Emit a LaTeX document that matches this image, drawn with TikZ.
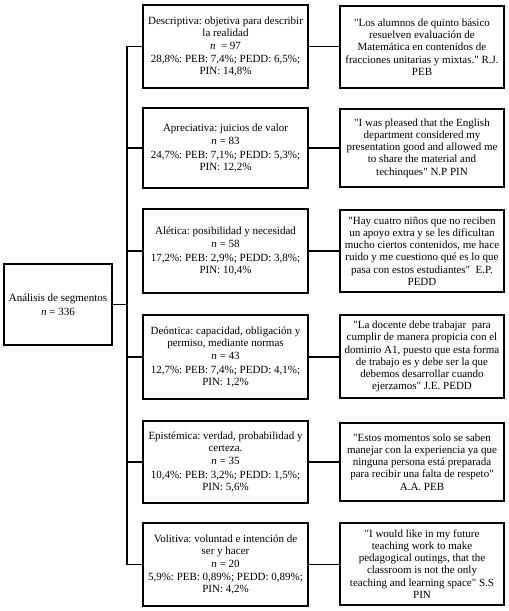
\documentclass[tikz,border=0pt]{standalone}
\usepackage{fontspec}
\setmainfont{Liberation Serif}[Ligatures=TeXOff]
\begin{document}
\begin{tikzpicture}[x=1pt,y=-1pt,
  box/.style={draw,line width=1.9pt,inner sep=0pt,align=center,
    font=\fontsize{11}{12.2}\selectfont\frenchspacing},
  mid/.style={box,minimum width=165pt},
  quo/.style={box,minimum width=164pt},
  conn/.style={line width=1.9pt}]
\useasboundingbox (0,0) rectangle (509,611);
\node[box,minimum width=108pt,minimum height=81pt] (a) at (58,304.5)
  {Análisis de segmentos\\[2pt] \textit{n} = 336};
\node[mid,minimum height=83pt] (m1) at (225.5,46.5)
  {Descriptiva: objetiva para describir\\ la realidad\\[1pt] \textit{n}\ \ = 97\\[1pt] 28,8\%: PEB: 7,4\%; PEDD: 6,5\%;\\ PIN: 14,8\%};
\node[mid,minimum height=80pt] (m2) at (225.5,148)
  {Apreciativa: juicios de valor\\[1pt] \textit{n} = 83\\[1pt] 24,7\%: PEB: 7,1\%; PEDD: 5,3\%;\\ PIN: 12,2\%};
\node[mid,minimum height=84pt] (m3) at (225.5,251)
  {Alética: posibilidad y necesidad\\[1pt] \textit{n} = 58\\[1pt] 17,2\%: PEB: 2,9\%; PEDD: 3,8\%;\\ PIN: 10,4\%};
\node[mid,minimum height=84pt] (m4) at (225.5,357)
  {Deóntica: capacidad, obligación y\\ permiso, mediante normas\\[1pt] \textit{n} = 43\\[1pt] 12,7\%: PEB: 7,4\%; PEDD: 4,1\%;\\ PIN: 1,2\%};
\node[mid,minimum height=82pt] (m5) at (225.5,462)
  {Epistémica: verdad, probabilidad y\\ certeza.\\[1pt] \textit{n} = 35\\[1pt] 10,4\%: PEB: 3,2\%; PEDD: 1,5\%;\\ PIN: 5,6\%};
\node[mid,minimum height=83pt] (m6) at (225.5,564.5)
  {Volitiva: voluntad e intención de\\ ser y hacer\\[1pt] \textit{n} = 20\\[1pt] 5,9\%: PEB: 0,89\%; PEDD: 0,89\%;\\ PIN: 4,2\%};
\node[quo,minimum height=82pt] (r1) at (422,47)
  {"Los alumnos de quinto básico\\ resuelven evaluación de\\ Matemática en contenidos de\\ fracciones unitarias y mixtas." R.J.\\ PEB};
\node[quo,minimum height=78pt] (r2) at (422,148)
  {"I was pleased that the English\\ department considered my\\ presentation good and allowed me\\ to share the material and\\ techinques" N.P PIN};
\node[quo,minimum height=82pt] (r3) at (422,251)
  {"Hay cuatro niños que no reciben\\ un apoyo extra y se les dificultan\\ mucho ciertos contenidos, me hace\\ ruido y me cuestiono qué es lo que\\ pasa con estos estudiantes"\ \ E.P.\\ PEDD};
\node[quo,minimum height=83pt] (r4) at (422,356.5)
  {"La docente debe trabajar\ \ para\\ cumplir de manera propicia con el\\ dominio A1, puesto que esta forma\\ de trabajo es y debe ser la que\\ debemos desarrollar cuando\\ ejerzamos" J.E. PEDD};
\node[quo,minimum height=78pt] (r5) at (422,462)
  {"Estos momentos solo se saben\\ manejar con la experiencia ya que\\ ninguna persona está preparada\\ para recibir una falta de respeto"\\ A.A. PEB};
\node[quo,minimum height=82pt] (r6) at (422,564)
  {"I would like in my future\\ teaching work to make\\ pedagogical outings, that the\\ classroom is not the only\\ teaching and learning space" S.S\\ PIN};
\coordinate (tx) at (127,300);
\draw[conn] (m1.west) -| (tx) |- (m6.west);
\foreach \i in {2,3,4,5} \draw[conn] (m\i.west) -- (m\i.west -| tx);
\draw[conn] (a.east) -- (a.east -| tx);
\foreach \i in {1,...,6} \draw[conn] (m\i.east) -- (m\i.east -| r\i.west);
\end{tikzpicture}
\end{document}
